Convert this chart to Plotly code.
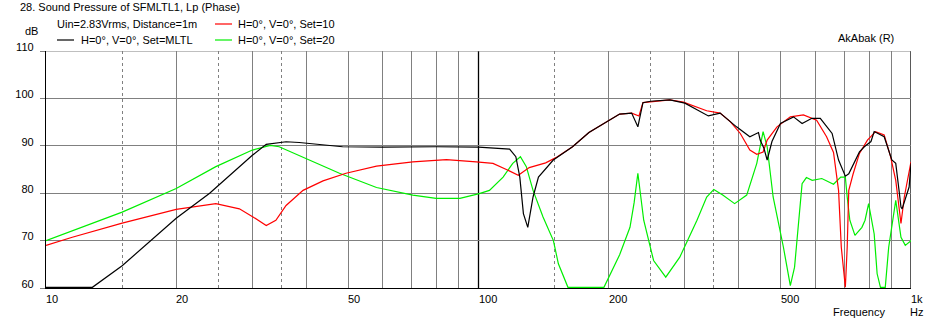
import numpy as np
import plotly.graph_objects as go

# ---------------- data ----------------
f_mltl = [10, 12.8, 15, 20, 23.9, 30, 32.3, 35.9, 38.5, 43, 48.5, 60, 80, 100, 106, 112, 118,
          122, 124.6, 127, 130, 133.7, 137.6, 148.9, 165, 180, 197.4, 212, 226, 230, 233.6,
          240, 250, 277, 300, 320, 340, 362, 395, 424, 444, 448, 457, 465, 477, 499, 535,
          560, 590, 617, 657, 680, 705, 718, 760, 780, 808, 822, 845, 867, 903, 922, 940,
          948, 954, 990, 1000]
db_mltl = [52, 60, 64.7, 74.7, 80, 88.0, 90.3, 90.85, 90.7, 90.2, 89.8, 89.7, 89.8, 89.7, 89.6,
           89.5, 89.3, 87.7, 83.4, 75.7, 72.8, 79.2, 83.4, 87.0, 89.8, 92.8, 95.1, 96.7, 96.9,
           95.5, 94.0, 99.1, 99.4, 99.7, 99.0, 97.6, 96.3, 96.9, 94.0, 91.9, 92.8, 91.2, 89.5,
           87.0, 90.9, 94.7, 96.1, 94.7, 95.8, 95.8, 92.6, 87.0, 83.6, 84.1, 88.7, 89.8, 90.9,
           93.0, 92.5, 91.9, 87.0, 86.3, 80.0, 77.1, 76.7, 81.3, 86.3]

f_set10 = [10, 11.5, 15, 20, 24.7, 28, 30.1, 32.3, 34.0, 35.9, 39.3, 43.7, 49.4, 58.1, 70.5,
           84.3, 98.8, 108, 116, 123.6, 131, 143, 151, 165, 180, 197.4, 212, 226, 235, 240,
           277, 297.6, 337, 362, 382, 403, 424, 440, 455, 465, 490, 526, 564, 605, 638, 662,
           680, 690, 705, 712, 718, 735, 760, 793, 828, 867, 897, 922, 948, 965, 1000]
db_set10 = [69.0, 70.7, 73.7, 76.6, 77.8, 76.7, 75.0, 73.2, 74.3, 77.4, 80.6, 82.6, 84.2, 85.7,
            86.6, 87.1, 86.6, 86.3, 85.0, 83.8, 85.4, 86.4, 87.5, 89.8, 92.8, 95.1, 96.7, 96.9,
            96.3, 99.1, 99.7, 99.2, 97.4, 96.9, 95.1, 92.6, 89.1, 88.2, 88.7, 91.2, 94.0, 96.1,
            96.5, 95.4, 91.9, 88.6, 80.6, 68.6, 55.0, 68.6, 80.6, 84.1, 88.4, 91.2, 93.0, 92.3,
            87.7, 82.7, 73.6, 79.2, 86.6]

f_set20 = [10, 15, 20, 24.7, 30, 33, 34.6, 40, 47.7, 58.1, 70.5, 79.8, 90.6, 100.4, 106, 114,
           120, 125, 129, 133.7, 141, 149, 153, 161, 175, 195, 212, 224, 229, 233.6, 241, 254,
           271, 292, 320, 337, 350, 367, 391, 417, 440, 455, 465, 480, 507, 526, 538, 560,
           573, 591, 622, 662, 688, 705, 712, 722, 742, 770, 783, 798, 822, 835, 850, 872,
           888, 922, 948, 970, 1000]
db_set20 = [70.0, 76.0, 81.0, 85.6, 89.1, 90.1, 89.8, 87.3, 84.2, 81.2, 79.6, 78.9, 78.9, 79.9,
            80.6, 83.4, 86.3, 87.7, 85.6, 80.6, 75.0, 70.0, 65.1, 59.5, 55.0, 59.5, 67.0, 72.8,
            78.0, 84.2, 74.3, 65.8, 62.3, 66.5, 74.3, 79.2, 80.8, 79.6, 77.8, 79.6, 86.3, 93.0,
            89.8, 79.2, 68.6, 60.5, 64.4, 82.0, 83.3, 82.7, 83.1, 81.9, 83.4, 83.4, 79.2, 74.3,
            71.1, 72.8, 74.3, 77.8, 71.4, 63.0, 58.0, 58.0, 68.6, 78.5, 70.7, 69.0, 70.0]

x_grid_solid = [20, 30, 40, 50, 60, 70, 80, 90, 200, 300, 400, 500, 600, 700, 800, 900]
x_grid_dash = [15, 25, 35, 150, 250, 350]
x_grid_black = [100, 1000]
x_labels = [(10, "10"), (20, "20"), (50, "50"), (100, "100"), (200, "200"), (500, "500"), (1000, "1k")]
y_ticks = [60, 70, 80, 90, 100, 110]

series = [
    ("H=0°, V=0°, Set=MLTL", f_mltl, db_mltl, "#000000"),
    ("H=0°, V=0°, Set=10", f_set10, db_set10, "#ff0000"),
    ("H=0°, V=0°, Set=20", f_set20, db_set20, "#00ee00"),
]

# ---------------- layout geometry ----------------
W, H = 937, 324
L, R, T, B = 46, 26, 51, 36
PW, PH = W - L - R, H - T - B
YMIN, YMAX = 60, 110

def px(x):
    return (x - L) / PW

def py(y):
    return (H - B - y) / PH

FONT = "Liberation Sans"

fig = go.Figure()
# draw order: green, red, black on top
for name, f, d, c in [series[2], series[1], series[0]]:
    d_plot = np.clip(np.array(d, dtype=float), YMIN + 0.15, None)
    fig.add_trace(go.Scatter(x=f, y=d_plot, mode="lines", name=name,
                             line=dict(color=c, width=1.2), showlegend=False,
                             hoverinfo="skip"))

shapes = []
for v in x_grid_black:
    shapes.append(dict(type="line", xref="x", yref="paper", x0=v, x1=v, y0=0, y1=1,
                       line=dict(color="black", width=1.3), layer="below"))
shapes.append(dict(type="line", xref="paper", yref="y", x0=0, x1=1, y0=YMAX, y1=YMAX,
                   line=dict(color="#808080", width=1), layer="below"))

# legend samples
shapes.append(dict(type="line", xref="paper", yref="paper", x0=px(57), x1=px(74),
                   y0=py(40), y1=py(40), line=dict(color="black", width=1.2)))
shapes.append(dict(type="line", xref="paper", yref="paper", x0=px(215), x1=px(232),
                   y0=py(24), y1=py(24), line=dict(color="#ff0000", width=1.2)))
shapes.append(dict(type="line", xref="paper", yref="paper", x0=px(215), x1=px(232),
                   y0=py(40), y1=py(40), line=dict(color="#00ee00", width=1.2)))

ann = []
def text(x, y, s, anchor="left"):
    ann.append(dict(xref="paper", yref="paper", x=px(x), y=py(y), text=s, showarrow=False,
                    xanchor=anchor, yanchor="middle", font=dict(family=FONT, size=11, color="black"),
                    borderpad=0))

text(19, 7, "28. Sound Pressure of SFMLTL1, Lp (Phase)")
text(56, 24, "Uin=2.83Vrms, Distance=1m")
text(80, 40, series[0][0])
text(237, 24, series[1][0])
text(237, 40, series[2][0])
text(24, 31, "dB")
text(837, 38, "AkAbak (R)")
text(832, 312, "Frequency")
text(909, 312, "Hz")

for v, s in x_labels:
    ann.append(dict(xref="x", yref="paper", x=np.log10(v), y=py(299), text=s, showarrow=False,
                    xanchor="left", yanchor="middle", xshift=-1,
                    font=dict(family=FONT, size=11, color="black"), borderpad=0))

fig.update_layout(
    width=W, height=H, margin=dict(l=L, r=R, t=T, b=B, pad=0),
    paper_bgcolor="white", plot_bgcolor="white",
    shapes=shapes, annotations=ann,
    xaxis=dict(type="log", range=[1, 3], tickvals=x_grid_solid, showticklabels=False,
               showgrid=True, gridcolor="#808080", gridwidth=1, ticks="",
               showline=True, linecolor="black", linewidth=1.3, mirror=False,
               zeroline=False, fixedrange=True,
               minor=dict(tickmode="array", tickvals=x_grid_dash, showgrid=True,
                          gridcolor="#808080", griddash="3px,3px", gridwidth=1, ticks="")),
    yaxis=dict(range=[YMIN, YMAX], tickvals=y_ticks, ticktext=[str(v) for v in y_ticks],
               showgrid=True, gridcolor="#808080", gridwidth=1,
               ticks="outside", ticklen=5, tickcolor="#808080", tickwidth=1,
               ticklabelstandoff=4, ticklabelshift=-4,
               tickfont=dict(family=FONT, size=11, color="black"),
               showline=True, linecolor="black", linewidth=1.3, zeroline=False, fixedrange=True),
)

fig.write_html("out.html")
